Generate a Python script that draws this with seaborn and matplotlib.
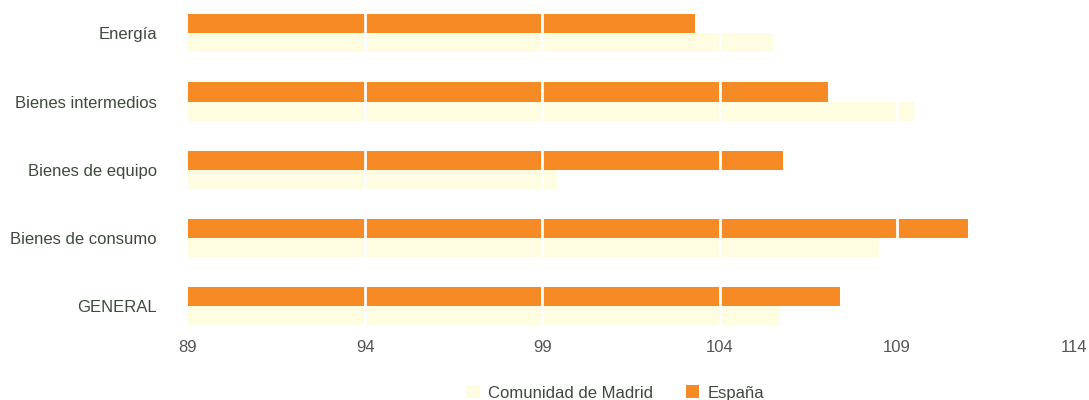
import pandas as pd
import matplotlib
matplotlib.use("Agg")
import matplotlib.pyplot as plt
import seaborn as sns
from matplotlib.patches import Patch

# Data
categories = ["Energía", "Bienes intermedios", "Bienes de equipo",
              "Bienes de consumo", "GENERAL"]
espana = [103.3, 107.05, 105.8, 111.0, 107.4]
madrid = [105.5, 109.5, 99.4, 108.5, 105.7]
x_ticks = [89, 94, 99, 104, 109, 114]

df = pd.DataFrame({
    "categoria": categories * 2,
    "valor": espana + madrid,
    "serie": ["España"] * 5 + ["Comunidad de Madrid"] * 5,
})

sns.set_style("white")
plt.rcParams["font.family"] = ["Liberation Sans", "DejaVu Sans"]

orange = "#F68B26"
cream = "#FFFDE1"
label_color = "#3E4A3C"
tick_color = "#555555"

fig = plt.figure(figsize=(10.89, 4.0), dpi=100)
ax = fig.add_axes([0.1726, 0.184, 0.8136, 0.816])

sns.barplot(
    data=df, y="categoria", x="valor", hue="serie",
    hue_order=["España", "Comunidad de Madrid"],
    palette={"España": orange, "Comunidad de Madrid": cream},
    orient="h", width=0.56, gap=0, saturation=1, legend=False, ax=ax,
)

# bars start at the left edge of the axis
for bar in ax.patches:
    bar.set_x(89)
    bar.set_width(bar.get_width() - 89)
    bar.set_linewidth(0)

# white grid lines drawn on top of the bars
for t in x_ticks[1:-1]:
    ax.axvline(t, color="white", lw=2, zorder=5)

ax.set_xlim(89, 114)
ax.set_ylim(4.3, -0.49)
ax.set_xticks(x_ticks)
ax.set_xticklabels([str(t) for t in x_ticks])
ax.set_xlabel("")
ax.set_ylabel("")
ax.tick_params(axis="both", length=0, labelsize=12)
ax.tick_params(axis="x", pad=10, labelcolor=tick_color)
ax.tick_params(axis="y", pad=22.3, labelcolor=label_color)
sns.despine(ax=ax, left=True, bottom=True)

handles = [Patch(facecolor=cream, edgecolor="none"),
           Patch(facecolor=orange, edgecolor="none")]
fig.legend(handles, ["Comunidad de Madrid", "España"],
           loc="center", bbox_to_anchor=(0.565, 0.0175), ncol=2,
           frameon=False, fontsize=12, handlelength=0.8, handleheight=0.8,
           handletextpad=0.5, columnspacing=2.0, labelcolor=label_color,
           borderpad=0)

fig.savefig("out.png", dpi=100)
